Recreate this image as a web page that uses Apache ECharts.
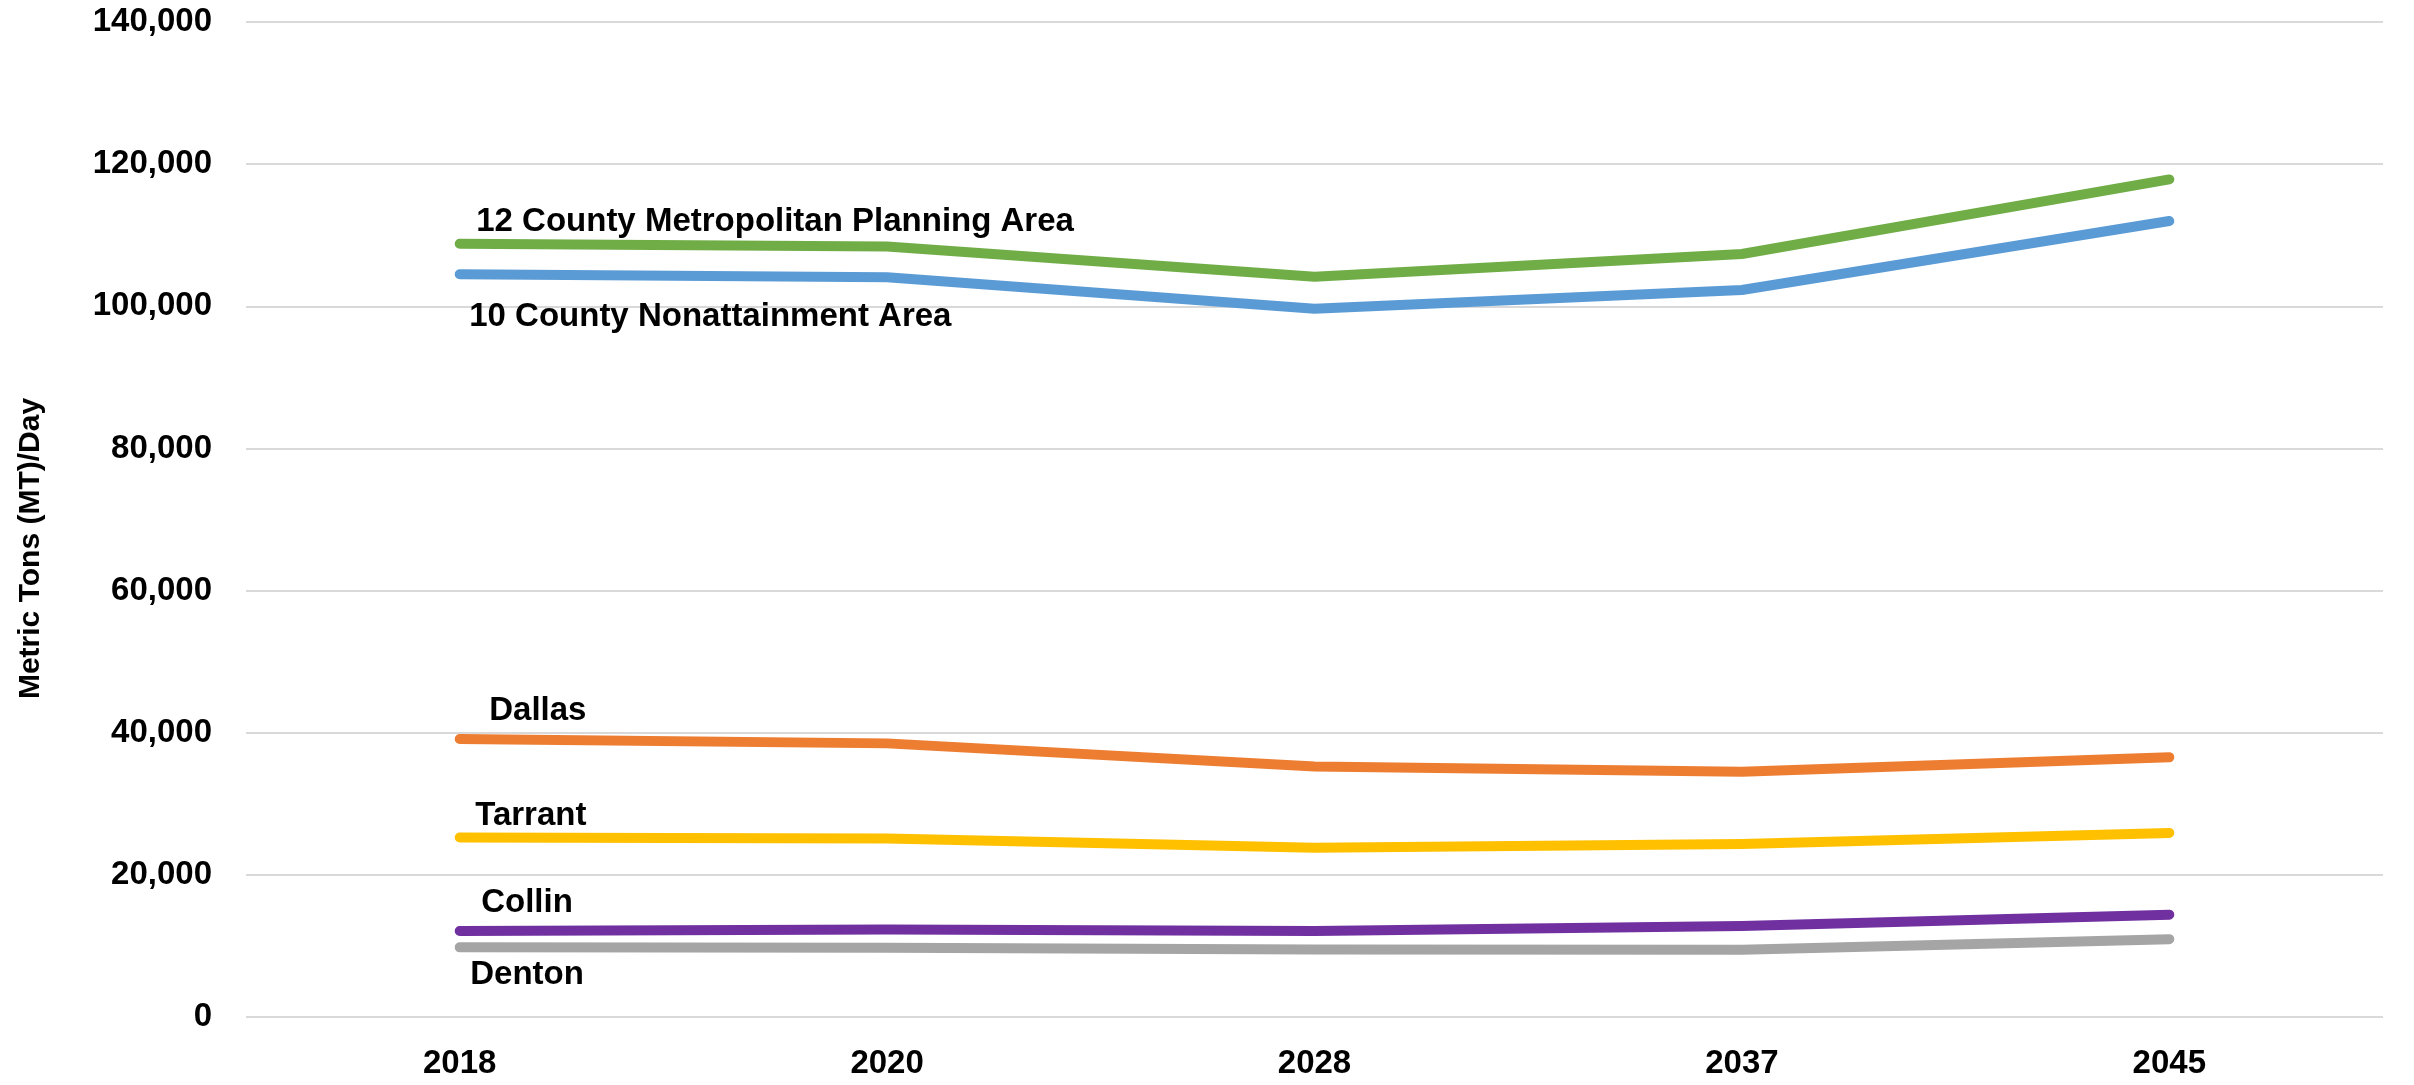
<!DOCTYPE html>
<html>
<head>
<meta charset="utf-8">
<title>Metric Tons per Day</title>
<script src="https://cdn.jsdelivr.net/npm/echarts@6/dist/echarts.min.js"></script>
<style>
  html, body { margin: 0; padding: 0; background: #fff; }
  #main { width: 2414px; height: 1085px; }
</style>
</head>
<body>
<div id="main"></div>
<script>
// data
var years = ['2018', '2020', '2028', '2037', '2045'];
var mpa12 = [108800, 108400, 104150, 107350, 117850];
var nonattain10 = [104500, 104100, 99650, 102300, 112000];
var dallas = [39100, 38500, 35250, 34500, 36550];
var tarrant = [25250, 25100, 23800, 24350, 25900];
var collin = [12100, 12300, 12100, 12800, 14400];
var denton = [9800, 9750, 9500, 9450, 10950];
var yTicks = [0, 20000, 40000, 60000, 80000, 100000, 120000, 140000];

var FONT = "'Liberation Sans', Arial, sans-serif";

function fmt(v){
	return String(v).replace(/\B(?=(\d{3})+(?!\d))/g, ',');
}

// line with a name label on the first point
function makeSeries(name, values, color, offset){
	var data = values.map(function(v, i){
		if(i == 0){
			return {
				value: v,
				label: {
					show: true,
					position: 'right',
					distance: 0,
					offset: offset,
					formatter: name,
					color: '#000',
					fontFamily: FONT,
					fontWeight: 'bold',
					fontSize: 33
				}
			};
		}
		return v;
	});
	return {
		name: name,
		type: 'line',
		data: data,
		symbol: 'circle',
		symbolSize: 1,
		showSymbol: true,
		itemStyle: { color: color },
		lineStyle: { color: color, width: 10, cap: 'round', join: 'round' },
		emphasis: { disabled: true },
		silent: true,
		z: 3
	};
}

var myChart = echarts.init(document.getElementById('main'));

myChart.setOption({
	animation: false,
	textStyle: { fontFamily: FONT },
	grid: {
		left: 246,
		right: 31,
		top: 22,
		bottom: 68,
		containLabel: false
	},
	xAxis: {
		type: 'category',
		data: years,
		boundaryGap: true,
		axisLine: { show: false },
		axisTick: { show: false },
		axisLabel: {
			color: '#000',
			fontFamily: FONT,
			fontWeight: 'bold',
			fontSize: 33,
			margin: 30
		}
	},
	yAxis: {
		type: 'value',
		min: yTicks[0],
		max: yTicks[yTicks.length - 1],
		interval: 20000,
		name: 'Metric Tons (MT)/Day',
		nameLocation: 'middle',
		nameGap: 200,
		nameTextStyle: {
			color: '#000',
			fontFamily: FONT,
			fontWeight: 'bold',
			fontSize: 30,
			padding: [0, 58, 0, 0]
		},
		axisLine: { show: false },
		axisTick: { show: false },
		axisLabel: {
			color: '#000',
			fontFamily: FONT,
			fontWeight: 'bold',
			fontSize: 33,
			margin: 34,
			formatter: function(v){ return fmt(v); }
		},
		splitLine: { lineStyle: { color: '#d9d9d9', width: 2 } }
	},
	series: [
		makeSeries('12 County Metropolitan Planning Area', mpa12, '#70AD47', [16, -22]),
		makeSeries('10 County Nonattainment Area', nonattain10, '#5B9BD5', [9, 43]),
		makeSeries('Dallas', dallas, '#ED7D31', [29, -28]),
		makeSeries('Tarrant', tarrant, '#FFC000', [15, -22]),
		makeSeries('Collin', collin, '#7030A0', [21, -28]),
		makeSeries('Denton', denton, '#A5A5A5', [10, 28])
	]
});
</script>
</body>
</html>
